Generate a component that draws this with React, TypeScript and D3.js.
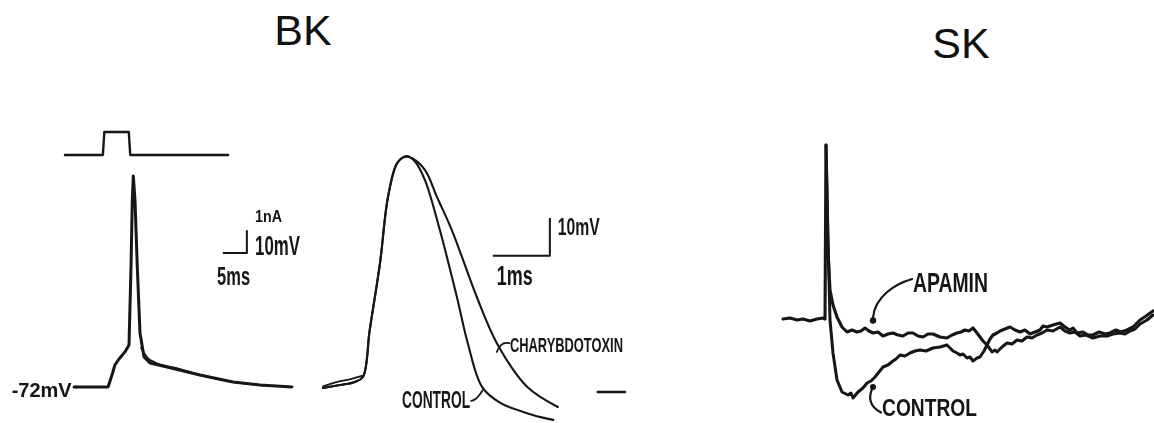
import React from 'react';
import * as d3 from 'd3';

// BK panel 1: stimulus pulse and spike (t in ms, V in mV)
const stimT = [-2.3, 5.6, 5.9, 11.0, 11.3, 31.7];
const stimI = [0, 0, 1, 1, 0, 0];
const bkSpike: [number, number][] = [
  [0, -72], [6.67, -72], [7.5, -66.8], [8.1, -62.4], [8.96, -59.8], [10.2, -56.7], [11.04, -53.7],
  [11.46, -19.7], [11.73, 9.5], [11.94, 20], [12.29, 9.5], [12.77, -19.7], [13.33, -48.5],
  [14.17, -58.9], [15.42, -61.5], [18.96, -63.3], [25.8, -66.8], [32.7, -69.8], [38.3, -71.1], [45, -72],
];
const bkSpike2: [number, number][] = [
  [13.6, -55], [14.6, -58.6], [16.5, -61.4], [20.5, -63.6], [27, -67.3], [34, -70.2], [40, -71.4],
];

// BK panel 2: expanded spike, control vs charybdotoxin (t ms, V mV above rest)
const rise: [number, number][] = [
  [0, 0], [0.3, 0.8], [0.56, 1.6], [0.7, 2.9], [0.82, 15.3], [1.0, 32.9], [1.14, 50.3], [1.3, 59.2],
];
const controlFall: [number, number][] = [
  [1.47, 61.1], [1.61, 59.7], [1.79, 54.7], [2.05, 41.6], [2.35, 23.9], [2.54, 11.8], [2.79, 0.3],
  [3.11, -3.9], [3.68, -7.1], [4.04, -8.4],
];
const ctxFall: [number, number][] = [
  [1.42, 60.8], [1.56, 60.5], [1.79, 57.4], [2.0, 50.3], [2.26, 41.6], [2.7, 23.9], [3.05, 11.8],
  [3.58, 0.3], [4.12, -5],
];
const rise2: [number, number][] = [[0, 0.4], [0.25, 1.6], [0.5, 2.4], [0.68, 3.2]];
const tailDash: [number, number][] = [[4.82, -1.05], [5.3, -1.05]];

// SK panel: apamin vs control (arbitrary ms, mV above rest)
const skPre: [number, number][] = [
  [0, 0], [0.7, 0.4], [1.4, -0.4], [2.0, 0], [2.7, -0.8], [3.4, 0], [4.0, 0.4], [4.2, 0], [4.3, 69.6],
];
const apamin: [number, number][] = [
  [4.5, 27.6], [4.7, 11.6], [5.0, 5.6], [5.4, 0.8], [5.9, -3.2], [6.4, -5.2], [6.9, -4.4], [7.4, -5.2],
  [7.8, -4.8], [8.2, -3.6], [8.6, -4.8], [9.0, -5.6], [9.5, -5.2], [10.0, -6.8], [10.5, -6.0], [11.0, -5.6],
  [11.5, -6.4], [12.0, -6.8], [12.5, -5.6], [13.0, -5.6], [13.5, -6.8], [14.0, -7.2], [14.5, -6.0],
  [15.0, -6.0], [15.7, -7.2], [16.4, -7.6], [16.9, -6.4], [17.4, -5.6], [17.8, -5.2], [18.2, -4.4],
  [18.6, -4.8], [19.0, -3.6], [19.4, -5.6], [19.7, -7.2], [20.0, -8.8], [20.4, -10.4], [20.7, -8.0],
  [21.0, -6.4], [21.4, -5.6], [21.7, -4.8], [22.2, -4.0], [22.7, -3.2], [23.2, -4.4], [23.7, -5.2],
  [24.2, -4.4], [24.7, -6.0], [25.2, -5.2], [25.7, -4.4], [26.0, -2.8], [26.4, -3.2], [27.0, -2.4],
  [27.7, -1.6], [28.2, -3.2], [28.7, -4.4], [29.0, -3.6], [29.4, -5.6], [30.0, -5.2], [30.5, -6.4],
  [31.0, -6.4], [31.6, -5.2], [32.2, -6.0], [32.7, -5.6], [33.3, -4.4], [33.8, -5.2], [34.4, -4.4],
  [35.0, -3.2], [35.7, -0.4], [36.3, 1.2], [37.0, 3.2],
];
const control: [number, number][] = [
  [4.5, 31.6], [4.7, -0.4], [5.0, -13.6], [5.4, -24.4], [5.9, -29.2], [6.5, -30.4], [6.8, -29.6],
  [7.0, -31.6], [7.5, -29.2], [8.0, -27.6], [8.4, -25.6], [8.8, -24.8], [9.2, -23.2], [9.6, -21.2],
  [10.0, -19.2], [10.5, -18.4], [11.0, -16.8], [11.3, -16.0], [11.7, -14.4], [12.2, -14.8], [12.7, -13.6],
  [13.2, -12.8], [13.7, -12.4], [14.3, -12.8], [15.0, -11.6], [15.7, -11.2], [16.4, -10.4], [16.7, -11.6],
  [17.0, -12.8], [17.4, -13.6], [17.7, -14.4], [18.0, -14.0], [18.4, -15.6], [18.7, -15.2], [19.0, -16.8],
  [19.4, -15.6], [19.7, -15.2], [20.1, -12.8], [20.4, -10.4], [20.7, -12.0], [20.9, -13.2], [21.2, -12.4],
  [21.4, -13.2], [21.9, -11.2], [22.4, -9.6], [22.9, -10.0], [23.4, -8.4], [23.9, -8.8], [24.4, -7.2],
  [24.9, -7.6], [25.4, -6.4], [25.9, -5.6], [26.4, -4.4], [27.0, -4.8], [27.7, -3.2], [28.2, -4.8],
  [28.7, -5.6], [29.2, -5.2], [29.7, -6.8], [30.3, -6.4], [31.0, -7.6], [31.7, -6.8], [32.4, -6.8],
  [33.0, -6.0], [33.7, -5.6], [34.2, -6.0], [34.7, -4.8], [35.2, -4.0], [35.7, -2.0], [36.4, -0.4],
  [37.0, 1.6],
];

const x1 = d3.scaleLinear().domain([0, 45]).range([76, 292]);
const y1 = d3.scaleLinear().domain([-72, 20]).range([387, 176]);
const yI = d3.scaleLinear().domain([0, 1]).range([155, 132]);
const x2 = d3.scaleLinear().domain([0, 5.3]).range([323, 323 + 5.3 * 57]);
const y2 = d3.scaleLinear().domain([0, 61.1]).range([388, 156]);
const x3 = d3.scaleLinear().domain([0, 37]).range([783, 1153]);
const y3 = d3.scaleLinear().domain([0, 69.6]).range([319, 145]);

type Sc = d3.ScaleLinear<number, number>;
const path = (pts: [number, number][], sx: Sc, sy: Sc, curve: d3.CurveFactory = d3.curveMonotoneX) =>
  d3.line<[number, number]>().x(d => sx(d[0])).y(d => sy(d[1])).curve(curve)(pts) || '';

const ink = '#151515';
const labelFont = '"Liberation Sans Narrow", "Liberation Sans", Arial, sans-serif';

const Label = ({ x, y, text, len, size, anchor = 'start' }: any) => (
  <text x={x} y={y} fontSize={size} fontFamily={labelFont} fontWeight="bold" fill={ink}
    textLength={len} lengthAdjust="spacingAndGlyphs" textAnchor={anchor}>{text}</text>
);

export default function App() {
  const stim = stimT.map((t, i) => [t, stimI[i]] as [number, number]);
  return (
    <svg width={1154} height={423} style={{ position: 'absolute', left: 0, top: 0, background: '#fff' }}>
      <defs>
        <filter id="soft" x="-5%" y="-5%" width="110%" height="110%">
          <feGaussianBlur stdDeviation="0.55" />
        </filter>
      </defs>
      <text x={303} y={45} fontSize={43} fontFamily="'Liberation Sans', Arial, sans-serif" textAnchor="middle" fill="#111">BK</text>
      <text x={961} y={58} fontSize={43} fontFamily="'Liberation Sans', Arial, sans-serif" textAnchor="middle" fill="#111">SK</text>

      <g filter="url(#soft)" fill="none" stroke={ink} strokeLinejoin="round" strokeLinecap="round">
        {/* panel 1 */}
        <path d={path(stim, x1, yI, d3.curveLinear)} strokeWidth={2.4} />
        <path d={path(bkSpike, x1, y1, d3.curveLinear)} strokeWidth={3} />
        <path d={path(bkSpike2, x1, y1)} strokeWidth={2} />
        <line x1={x1(-0.4)} x2={x1(0)} y1={y1(-72)} y2={y1(-72)} strokeWidth={3} />
        <path d={`M${x1(30.6)},${y1(-13.6)}H${x1(35.6)}V${y1(-3.6)}`} strokeWidth={2} strokeLinecap="butt" />

        {/* panel 2 */}
        <path d={path([...rise, ...controlFall], x2, y2, d3.curveCatmullRom)} strokeWidth={2.1} />
        <path d={path([...rise, ...ctxFall], x2, y2, d3.curveCatmullRom)} strokeWidth={2.1} />
        <path d={path(rise2, x2, y2)} strokeWidth={1.8} />
        <path d={path(tailDash, x2, y2, d3.curveLinear)} strokeWidth={2.4} />
        <path d={`M${x2(2.98)},${y2(34.8)}H${x2(3.98)}V${y2(44.8)}`} strokeWidth={2} strokeLinecap="butt" />
        <path d={`M${x2(3.05)},${y2(9.5)}Q${x2(3.12)},${y2(12.4)} ${x2(3.27)},${y2(11.8)}`} strokeWidth={1.8} />
        <path d={`M${x2(2.6)},${y2(-3.4)}Q${x2(2.7)},${y2(-3.2)} ${x2(2.8)},${y2(-0.6)}`} strokeWidth={1.8} />

        {/* panel 3 */}
        <path d={path([...skPre, ...apamin], x3, y3, d3.curveLinear)} strokeWidth={3.1} />
        <path d={path([[4.3, 69.6], ...control], x3, y3, d3.curveLinear)} strokeWidth={3} />
        <path d={`M${x3(12.9)},${y3(16)}C${x3(11.2)},${y3(14)} ${x3(9.2)},${y3(9)} ${x3(9.0)},${y3(0.6)}`} strokeWidth={2.2} />
        <path d={`M${x3(9.0)},${y3(-27.2)}C${x3(8.5)},${y3(-31)} ${x3(8.6)},${y3(-35)} ${x3(9.8)},${y3(-37.4)}`} strokeWidth={2.2} />
      </g>
      <g filter="url(#soft)" fill={ink}>
        <circle cx={x3(9.0)} cy={y3(-0.6)} r={3.2} />
        <circle cx={x3(9.0)} cy={y3(-27.2)} r={3} />

        <Label x={x1(-0.9)} y={y1(-76.4)} text="-72mV" len={60} size={21} anchor="end" />
        <Label x={x1(37.3)} y={y1(0)} text="1nA" len={27} size={16} />
        <Label x={x1(37.3)} y={y1(-14.4)} text="10mV" len={45} size={27} />
        <Label x={x1(29.4)} y={y1(-27.5)} text="5ms" len={33} size={26} />

        <Label x={x2(4.12)} y={y2(40.3)} text="10mV" len={42} size={23} />
        <Label x={x2(3.05)} y={y2(27.1)} text="1ms" len={36} size={28} />
        <Label x={x2(3.28)} y={y2(9.5)} text="CHARYBDOTOXIN" len={113} size={20} />
        <Label x={x2(2.58)} y={y2(-5.3)} text="CONTROL" len={68} size={24} anchor="end" />

        <Label x={x3(13.0)} y={y3(10.8)} text="APAMIN" len={75} size={28} />
        <Label x={x3(9.9)} y={y3(-38.8)} text="CONTROL" len={95} size={23} />
      </g>
    </svg>
  );
}
